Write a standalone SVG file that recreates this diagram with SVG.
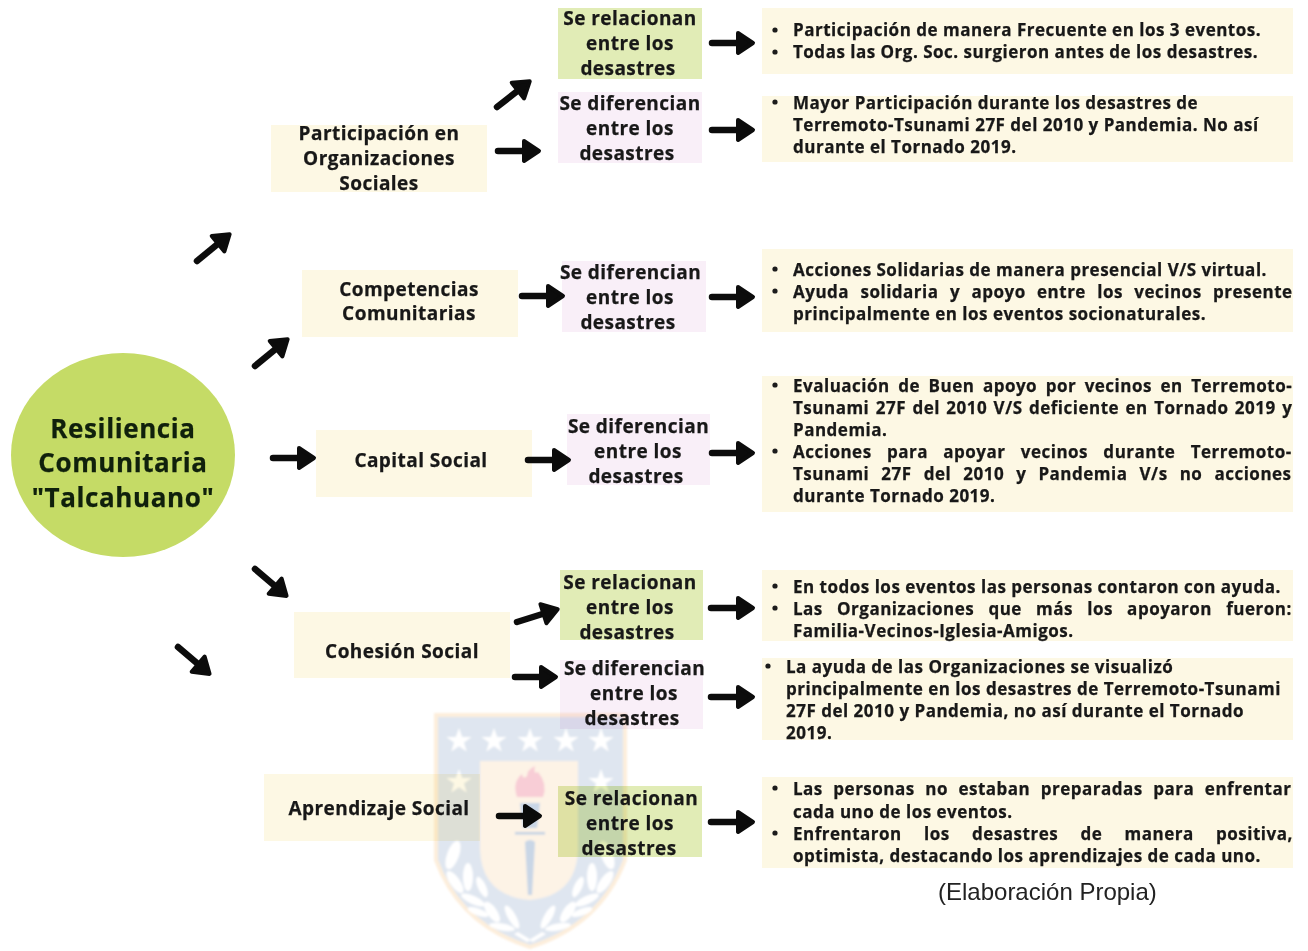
<svg xmlns="http://www.w3.org/2000/svg" width="1308" height="951" viewBox="0 0 1308 951">
<style>
text{font-family:"Open Sans","DejaVu Sans",sans-serif;font-weight:700;fill:#181818;stroke:#181818;stroke-width:.25}
.m{font-size:19px;letter-spacing:.45px;text-anchor:middle}
.b{font-size:17px;letter-spacing:.5px}
.c{font-size:26px;letter-spacing:.6px;text-anchor:middle;fill:#10200c;stroke:#10200c}
.cream{fill:#fdf8e4}.green{fill:#e1ecb6}.pink{fill:#f9eff8}
.con path{fill:none;stroke:#0c0c0c;stroke-width:6.5;stroke-linecap:round;marker-end:url(#h)}
.dot{fill:#1c1c1c}
#watermark{mix-blend-mode:multiply}
</style>
<defs>
<marker id="h" markerUnits="userSpaceOnUse" markerWidth="24" markerHeight="30" refX="12" refY="13" orient="auto" overflow="visible"><path d="M3 3 L18 13 L3 23 Z" fill="#0c0c0c" stroke="#0c0c0c" stroke-width="4" stroke-linejoin="round"/></marker>
<filter id="soft" x="-5%" y="-5%" width="110%" height="110%"><feGaussianBlur stdDeviation=".9"/></filter>
<polygon id="star" points="0,-13 3.2,-4 12.5,-4 5,1.6 7.7,10.5 0,5.2 -7.7,10.5 -5,1.6 -12.5,-4 -3.2,-4"/>
<g id="wreath" fill="#fff"><ellipse cx="453" cy="855" rx="6" ry="15" transform="rotate(20 453 855)"/><ellipse cx="468" cy="877" rx="5" ry="14"/><ellipse cx="455" cy="882" rx="5" ry="13" transform="rotate(-35 455 882)"/><ellipse cx="482" cy="887" rx="4" ry="11" transform="rotate(-25 482 887)"/><ellipse cx="473" cy="900" rx="4" ry="13" transform="rotate(-65 473 900)"/><ellipse cx="492" cy="912" rx="5" ry="12" transform="rotate(-35 492 912)"/><ellipse cx="478" cy="912" rx="3.5" ry="11" transform="rotate(-70 478 912)"/><ellipse cx="512" cy="917" rx="4" ry="13" transform="rotate(-30 512 917)"/><ellipse cx="502" cy="927" rx="3.5" ry="13" transform="rotate(-80 502 927)"/><path d="M518 932 L531 940 L527 942 L514 934 Z"/></g>
</defs>
<rect width="1308" height="951" fill="#fff"/>
<g id="center"><ellipse cx="123" cy="455" rx="112" ry="102" fill="#c5db66"/><text class="c" x="123" y="438">Resiliencia</text><text class="c" x="123" y="472">Comunitaria</text><text class="c" x="123" y="507">"Talcahuano"</text></g>
<g id="n-participacion"><rect class="cream" x="271" y="125" width="216" height="67"/><text class="m" x="379" y="139.7">Participación en</text><text class="m" x="379" y="164.7">Organizaciones</text><text class="m" x="379" y="189.5">Sociales</text></g>
<g id="n-competencias"><rect class="cream" x="302" y="270" width="216" height="67"/><text class="m" x="409" y="295.7">Competencias</text><text class="m" x="409" y="319.7">Comunitarias</text></g>
<g id="n-capital"><rect class="cream" x="316" y="430" width="216" height="67"/><text class="m" x="421" y="466.7">Capital Social</text></g>
<g id="n-cohesion"><rect class="cream" x="294" y="612" width="216" height="66"/><text class="m" x="402" y="657.7">Cohesión Social</text></g>
<g id="n-aprendizaje"><rect class="cream" x="264" y="774" width="216" height="67"/><text class="m" x="379" y="814.7">Aprendizaje Social</text></g>
<g id="r1"><rect class="green" x="558" y="8" width="144" height="71"/><text class="m" x="630" y="25">Se relacionan</text><text class="m" x="630" y="49.7">entre los</text><text class="m" x="628" y="74.5">desastres</text></g>
<g id="d1"><rect class="pink" x="558" y="92" width="144" height="71"/><text class="m" x="630" y="110">Se diferencian</text><text class="m" x="630" y="135">entre los</text><text class="m" x="627" y="159.5">desastres</text></g>
<g id="d2"><rect class="pink" x="562" y="261" width="144" height="71"/><text class="m" x="630.500" y="279">Se diferencian</text><text class="m" x="630" y="304">entre los</text><text class="m" x="628" y="328.500">desastres</text></g>
<g id="d3"><rect class="pink" x="567" y="414" width="143" height="71"/><text class="m" x="638.500" y="433">Se diferencian</text><text class="m" x="638" y="458">entre los</text><text class="m" x="636" y="482.500">desastres</text></g>
<g id="r2"><rect class="green" x="560" y="570" width="143" height="70"/><text class="m" x="630" y="589">Se relacionan</text><text class="m" x="630" y="613.500">entre los</text><text class="m" x="627" y="638.500">desastres</text></g>
<g id="d4"><rect class="pink" x="560" y="660" width="143" height="69"/><text class="m" x="634.500" y="675">Se diferencian</text><text class="m" x="634" y="700">entre los</text><text class="m" x="632" y="724.500">desastres</text></g>
<g id="r3"><rect class="green" x="558" y="786" width="144" height="71"/><text class="m" x="631.500" y="804.500">Se relacionan</text><text class="m" x="630" y="829.500">entre los</text><text class="m" x="629" y="854.500">desastres</text></g>
<g id="t1"><rect class="cream" x="762" y="8" width="531" height="66"/><circle class="dot" cx="775" cy="30" r="2.6"/><circle class="dot" cx="775" cy="52" r="2.6"/><text class="b" x="793" y="36">Participación de manera Frecuente en los 3 eventos.</text><text class="b" x="793" y="58">Todas las Org. Soc. surgieron antes de los desastres.</text></g>
<g id="t2"><rect class="cream" x="762" y="96" width="531" height="66"/><circle class="dot" cx="775" cy="102" r="2.6"/><text class="b" x="793" y="109">Mayor Participación durante los desastres de</text><text class="b" x="793" y="131">Terremoto-Tsunami 27F del 2010 y Pandemia. No así</text><text class="b" x="793" y="153">durante el Tornado 2019.</text></g>
<g id="t3"><rect class="cream" x="762" y="249" width="531" height="83"/><circle class="dot" cx="775" cy="269" r="2.6"/><circle class="dot" cx="775" cy="291" r="2.6"/><text class="b" x="793" y="276">Acciones Solidarias de manera presencial V/S virtual.</text><text class="b" x="793" y="298" word-spacing="6.45">Ayuda solidaria y apoyo entre los vecinos presente</text><text class="b" x="793" y="320">principalmente en los eventos socionaturales.</text></g>
<g id="t4"><rect class="cream" x="762" y="376" width="531" height="136"/><circle class="dot" cx="775" cy="385" r="2.6"/><circle class="dot" cx="775" cy="451" r="2.6"/><text class="b" x="793" y="392" word-spacing="3.6">Evaluación de Buen apoyo por vecinos en Terremoto-</text><text class="b" x="793" y="414" word-spacing="1.5">Tsunami 27F del 2010 V/S deficiente en Tornado 2019 y</text><text class="b" x="793" y="436">Pandemia.</text><text class="b" x="793" y="458" word-spacing="10.4">Acciones para apoyar vecinos durante Terremoto-</text><text class="b" x="793" y="480" word-spacing="7.15">Tsunami 27F del 2010 y Pandemia V/s no acciones</text><text class="b" x="793" y="502">durante Tornado 2019.</text></g>
<g id="t5"><rect class="cream" x="762" y="570" width="531" height="71"/><circle class="dot" cx="775" cy="586" r="2.6"/><circle class="dot" cx="775" cy="608" r="2.6"/><text class="b" x="793" y="593">En todos los eventos las personas contaron con ayuda.</text><text class="b" x="793" y="615" word-spacing="9.3">Las Organizaciones que más los apoyaron fueron:</text><text class="b" x="793" y="637">Familia-Vecinos-Iglesia-Amigos.</text></g>
<g id="t6"><rect class="cream" x="762" y="658" width="531" height="82"/><circle class="dot" cx="768" cy="666" r="2.6"/><text class="b" x="786" y="673">La ayuda de las Organizaciones se visualizó</text><text class="b" x="786" y="695">principalmente en los desastres de Terremoto-Tsunami</text><text class="b" x="786" y="717">27F del 2010 y Pandemia, no así durante el Tornado</text><text class="b" x="786" y="739">2019.</text></g>
<g id="t7"><rect class="cream" x="762" y="777" width="531" height="91"/><circle class="dot" cx="775" cy="788" r="2.6"/><circle class="dot" cx="775" cy="833" r="2.6"/><text class="b" x="793" y="795" word-spacing="5.6">Las personas no estaban preparadas para enfrentar</text><text class="b" x="793" y="817.500">cada uno de los eventos.</text><text class="b" x="793" y="840" word-spacing="17.4">Enfrentaron los desastres de manera positiva,</text><text class="b" x="793" y="862">optimista, destacando los aprendizajes de cada uno.</text></g>
<text id="source" x="938" y="900" style="font-family:'Liberation Sans',Arial,sans-serif;font-weight:400;font-size:24px;fill:#222;stroke:none">(Elaboración Propia)</text>
<g id="connectors" class="con">
<path d="M197 261 L225 238"/><path d="M255 366 L283 343"/><path d="M273 458 L308 458"/><path d="M255 569 L282 592"/><path d="M178 647 L205 670"/>
<path d="M497 107 L525 85"/><path d="M498 151 L533 151"/><path d="M522 296 L557 296"/><path d="M528 460 L563 460"/><path d="M517 622 L552 611"/><path d="M515 677 L550 677"/><path d="M499 816 L534 816"/>
<path d="M712 43 L747 43"/><path d="M712 130 L747 130"/><path d="M712 297 L747 297"/><path d="M712 453 L747 453"/><path d="M711 608 L747 608"/><path d="M711 697 L747 697"/><path d="M711 822 L747 822"/>
</g>
<g id="watermark" filter="url(#soft)">
<path d="M436 715 H625 V860 Q600 925 530 947 Q460 925 436 860 Z" fill="#dfe6f0" stroke="#fdeedb" stroke-width="4"/>
<path d="M480 761 H578 V850 Q576 896 530 900 Q482 896 480 850 Z" fill="#fdf3e6"/>
<g fill="#fff"><use href="#star" x="459" y="741"/><use href="#star" x="494" y="741"/><use href="#star" x="530" y="741"/><use href="#star" x="566" y="741"/><use href="#star" x="601" y="741"/><use href="#star" x="459" y="782"/><use href="#star" x="601" y="782"/></g>
<path d="M517 797 Q512 782 522 774 Q523 780 527 776 Q527 770 535 766 Q533 775 538 772 Q548 784 543 797 Z" fill="#f8cdd6"/>
<path d="M520 803 H540 L537 828 H523 Z" fill="#c9d6e6"/>
<rect x="515" y="832" width="30" height="2.5" fill="#c3d1e3"/>
<path d="M525 842 Q530 838 535 842 L532 895 H528 Z" fill="#c9d6e6"/>
<use href="#wreath"/><use href="#wreath" transform="translate(1060 0) scale(-1 1)"/>
</g>
</svg>
